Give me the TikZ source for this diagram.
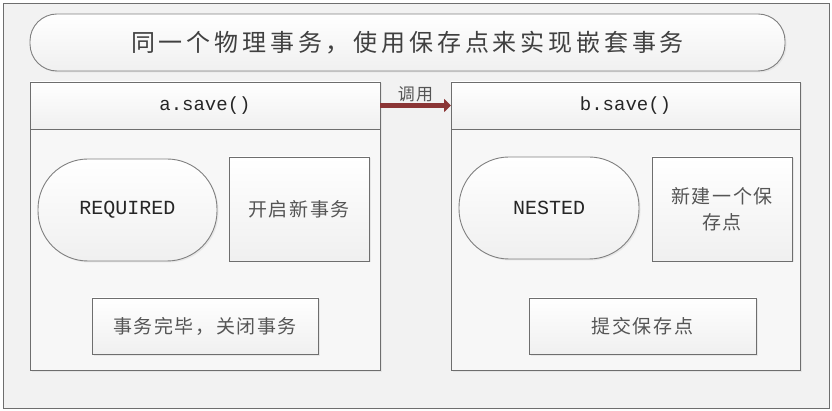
\documentclass[tikz,border=0pt]{standalone}
\usepackage{fontspec}
\usepackage{xcolor}
\usetikzlibrary{arrows.meta,positioning,shadows}
\newfontfamily\cjk[LetterSpace=8]{Noto Sans CJK SC}
\newfontfamily\cjktitle[LetterSpace=16]{Noto Sans CJK SC}
\newfontfamily\latin{Liberation Mono}
\definecolor{framecol}{HTML}{6E6E6E}
\definecolor{callcol}{HTML}{8B3535}
\definecolor{txtcol}{HTML}{555555}

\begin{document}
\begin{tikzpicture}[
  x=1pt, y=-1pt,
  every node/.style={inner sep=0pt, outer sep=0pt},
  box/.style={draw=framecol, line width=0.9pt, top color=white, bottom color=gray!12,
    drop shadow={shadow xshift=1.5pt, shadow yshift=-1.5pt, fill=gray!30}},
  headbox/.style={box, font=\latin\fontsize{19}{22}\selectfont, text=black!85},
  bodybox/.style={draw=framecol, line width=0.9pt, fill=gray!6,
    drop shadow={shadow xshift=1.5pt, shadow yshift=-1.5pt, fill=gray!30}},
  mode/.style={box, draw=gray, rounded corners=50pt, font=\latin\fontsize{20}{22}\selectfont, text=black!85},
  stepbox/.style={box, font=\cjk\fontsize{19}{26}\selectfont, text=txtcol, align=center}
]
\useasboundingbox (0,0) rectangle (832,411);
\node[draw=framecol, fill=gray!10, minimum width=826pt, minimum height=405pt] (frame) at (416,205.5) {};
\node[box, draw=gray, rounded corners=27pt, minimum width=755pt, minimum height=57pt,
  font=\cjktitle\fontsize{24}{28}\selectfont, text=black!75] (title) at (407.5,42.5) {同一个物理事务，使用保存点来实现嵌套事务};

% a.save()
\node[bodybox, minimum width=350pt, minimum height=241pt] (abody) at (205,249.5) {};
\node[headbox, minimum width=350pt, minimum height=47pt] (ahead) at (205,105.5) {a.save()};
\node[mode, minimum width=179pt, minimum height=102pt] (req) at (127.5,210) {REQUIRED};
\node[stepbox, minimum width=140pt, minimum height=104pt] (newtx) at (299,209) {开启新事务};
\node[stepbox, minimum width=226pt, minimum height=56pt] (closetx) at (205,326) {事务完毕，关闭事务};

% b.save()
\node[bodybox, minimum width=349pt, minimum height=241pt] (bbody) at (625.5,249.5) {};
\node[headbox, minimum width=349pt, minimum height=47pt] (bhead) at (625.5,105.5) {b.save()};
\node[mode, minimum width=180pt, minimum height=102pt] (nested) at (549,208) {NESTED};
\node[stepbox, minimum width=140pt, minimum height=104pt, text width=124pt] (newsp) at (722,209) {新建一个保\\存点};
\node[stepbox, minimum width=227pt, minimum height=56pt] (commitsp) at (642.5,326) {提交保存点};

\draw[callcol, line width=5pt, -{Triangle[length=7pt, width=13pt]}] (ahead.east) -- (bhead.west)
  node[midway, above=4pt, font=\cjk\fontsize{17}{19}\selectfont, text=txtcol] {调用};
\end{tikzpicture}
\end{document}
